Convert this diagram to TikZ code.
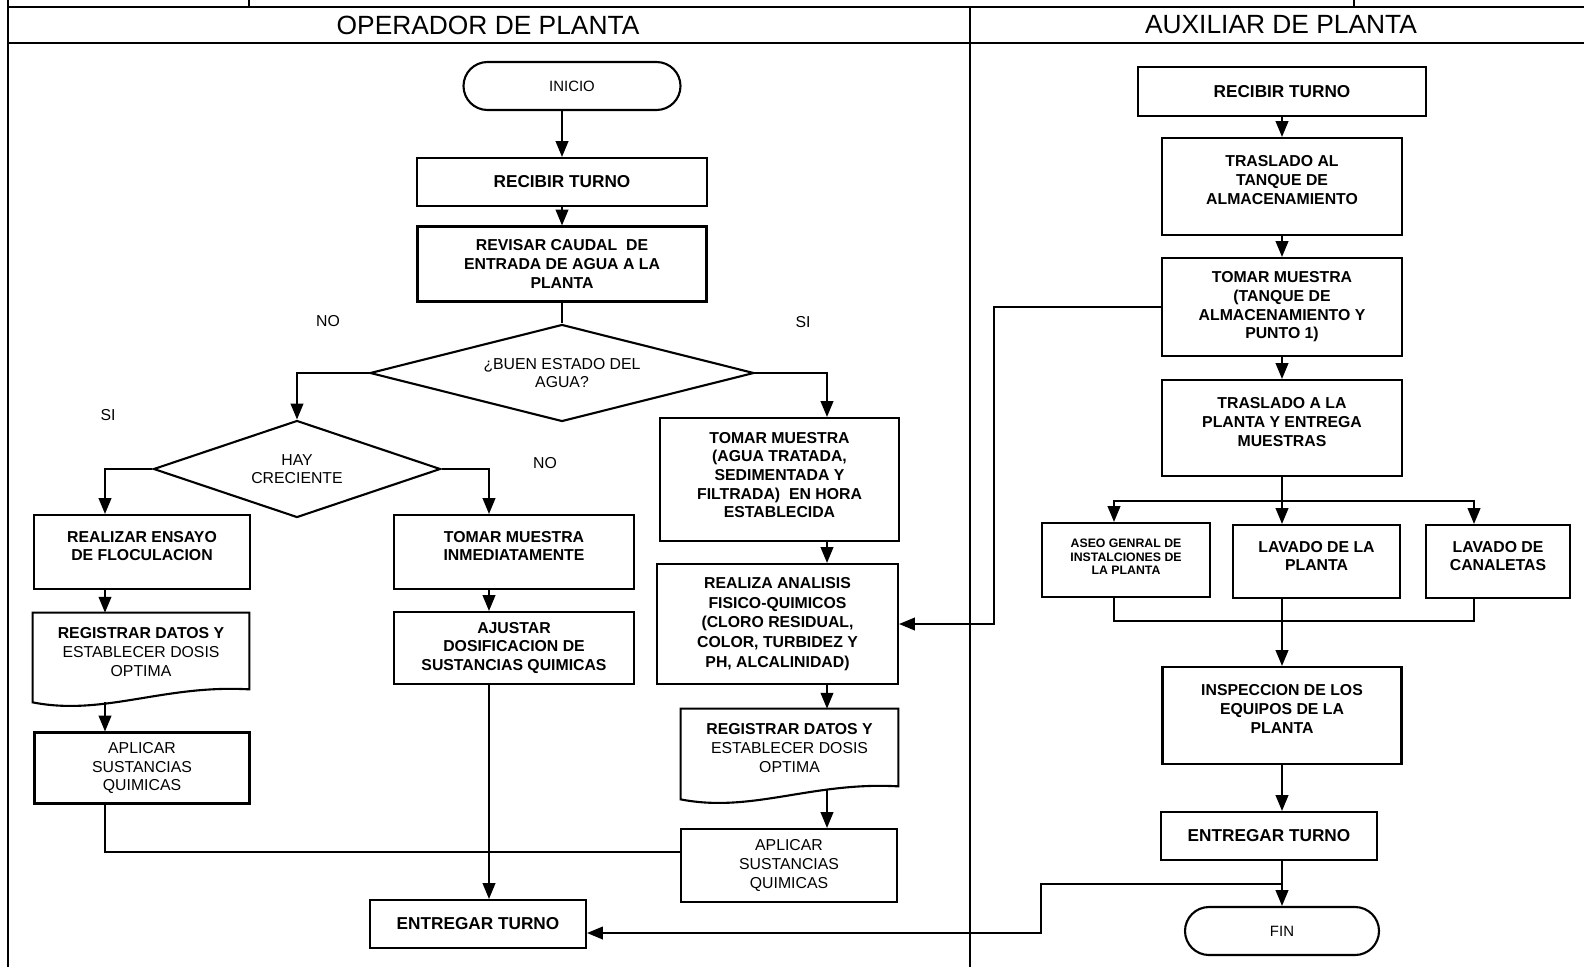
\documentclass[tikz,border=0pt]{standalone}
\usepackage{fontspec}
\setmainfont{Liberation Sans}
\usetikzlibrary{shapes.geometric,shapes.misc,arrows.meta,calc}
% baja el texto del nodo (sube el texto dentro de la caja)
\newcommand\alza[1]{\rule[-#1]{0pt}{#1}}
\tikzset{
  marco/.style={line width=1.2pt},
  borde/.style={line width=1.2pt},
  caja/.style={
    draw,
    line width=1.2pt,
    inner sep=0pt,
    align=center,
    font=\bfseries\fontsize{9}{10.6}\selectfont
  },
  normal/.style={font=\fontsize{9}{10.6}\selectfont},
  grande/.style={font=\bfseries\fontsize{9.8}{11}\selectfont},
  tam/.style 2 args={minimum width=#1*0.02cm, minimum height=#2*0.02cm},
  terminal/.style={caja, rounded rectangle, font=\fontsize{8.5}{10}\selectfont},
  decision/.style={caja, diamond, aspect=3, normal},
  hojadoc/.style={inner sep=0pt, align=center, normal},
  rotulo/.style={normal},
  titulo/.style={font=\fontsize{15}{18}\selectfont},
  flecha/.style={line width=1pt, -{Triangle[length=9pt,width=7.2pt]}},
  linea/.style={line width=1pt},
  lineafina/.style={line width=0.75pt}
}
% contorno de documento (borde inferior ondulado)
\newcommand\hoja[1]{%
  \draw[borde] (#1.south west) -- (#1.north west) -- (#1.north east)
    -- ($(#1.south east)+(0,-13)$)
    .. controls ($(#1.south east)+(-86,-18)$) and ($(#1.south west)+(71,14)$) .. (#1.south west)
    -- cycle;}

\begin{document}
\begin{tikzpicture}[x=0.02cm, y=-0.02cm]
  \useasboundingbox (0,0) rectangle (1584,967);
  % marco
  \draw[marco] (8,0) -- (8,967);
  \draw[marco] (8,7) -- (1584,7);
  \draw[marco] (8,43) -- (1584,43);
  \draw[marco] (970,7) -- (970,967);
  \draw[marco] (249,0) -- (249,7);
  \draw[marco] (1354,0) -- (1354,7);
  \node[titulo] (tituloA) at (488,25) {OPERADOR DE PLANTA};
  \node[titulo] (tituloB) at (1281,25) {AUXILIAR DE PLANTA};
  % columnas de las flechas
  \coordinate (colA) at (105,0);
  \coordinate (colB) at (489,0);
  \coordinate (colC) at (827,0);
  \coordinate (colE) at (994,0);
  \coordinate (colF) at (1114,0);
  \coordinate (colG) at (1474,0);
  \coordinate (juntaA) at (105,852);
  \coordinate (reparte) at (1282,501);
  \coordinate (juntaB) at (1282,621);
  \coordinate (desvio) at (1282,884);
  \coordinate (llegada) at (1041,933);
  %
  % operador de planta
  \node[terminal, tam={217}{48}] (inicio) at (572,86) {INICIO};
  \node[caja, grande, tam={290}{48}] (recibirA) at (562,182) {RECIBIR TURNO};
  \node[caja, tam={289}{75}] (revisar) at (562,264) {REVISAR CAUDAL\ \ DE\\ENTRADA DE AGUA A LA\\PLANTA};
  \node[decision, tam={384}{97}] (buen) at (562,373) {¿BUEN ESTADO DEL\\AGUA?};
  \node[decision, tam={287}{97}] (hay) at (297,469) {HAY\\CRECIENTE};
  \node[rotulo] (noA) at (328,321) {NO};
  \node[rotulo] (siA) at (803,322) {SI};
  \node[rotulo] (siB) at (108,415) {SI};
  \node[rotulo] (noB) at (545,463) {NO};
  \node[caja, tam={216}{74}] (ensayo) at (142,552) {REALIZAR ENSAYO\\DE FLOCULACION\alza{6.8pt}};
  \node[caja, tam={240}{74}] (inmed) at (514,552) {TOMAR MUESTRA\\INMEDIATAMENTE\alza{6.8pt}};
  \node[hojadoc, tam={216}{89}] (regA) at (141,657.5) {\textbf{REGISTRAR DATOS Y}\\ESTABLECER DOSIS\\OPTIMA\alza{6.3pt}};
  \hoja{regA}
  \node[caja, normal, tam={215}{71}] (aplicarA) at (142,768) {APLICAR\\SUSTANCIAS\\QUIMICAS};
  \node[caja, tam={240}{72}] (ajustar) at (514,648) {AJUSTAR\\DOSIFICACION DE\\SUSTANCIAS QUIMICAS};
  \node[caja, grande, tam={216}{48}] (entregarA) at (478,924) {ENTREGAR TURNO};
  \node[caja, tam={239}{123}] (tomarB) at (779.5,479.5) {TOMAR MUESTRA\\(AGUA TRATADA,\\SEDIMENTADA Y\\FILTRADA)\ \ EN HORA\\ESTABLECIDA\alza{5.1pt}};
  \node[caja, tam={241}{120}, font=\bfseries\fontsize{9}{11.3}\selectfont] (analisis) at (777.5,624) {REALIZA ANALISIS\\FISICO-QUIMICOS\\(CLORO RESIDUAL,\\COLOR, TURBIDEZ Y\\PH, ALCALINIDAD)};
  \node[hojadoc, tam={217}{90}] (regB) at (789.5,754) {\textbf{REGISTRAR DATOS Y}\\ESTABLECER DOSIS\\OPTIMA\alza{6.8pt}};
  \hoja{regB}
  \node[caja, normal, tam={216}{73}] (aplicarB) at (789,865.5) {APLICAR\\SUSTANCIAS\\QUIMICAS};
  %
  % auxiliar de planta
  \node[caja, grande, tam={288}{49}] (recibirB) at (1282,91.5) {RECIBIR TURNO};
  \node[caja, tam={240}{97}] (trasladoA) at (1282,186.5) {TRASLADO AL\\TANQUE DE\\ALMACENAMIENTO\alza{7.4pt}};
  \node[caja, tam={240}{98}] (tomarC) at (1282,307) {TOMAR MUESTRA\\(TANQUE DE\\ALMACENAMIENTO Y\\PUNTO 1)};
  \node[caja, tam={240}{96}] (trasladoB) at (1282,428) {TRASLADO A LA\\PLANTA Y ENTREGA\\MUESTRAS\alza{6.8pt}};
  \node[caja, tam={168}{74}, font=\bfseries\fontsize{7}{7.6}\selectfont] (aseo) at (1126,560) {ASEO GENRAL DE\\INSTALCIONES DE\\LA PLANTA\alza{3.4pt}};
  \node[caja, tam={167}{73}] (lavado) at (1316.5,561.5) {LAVADO DE LA\\PLANTA\alza{6.3pt}};
  \node[caja, tam={144}{73}] (canaletas) at (1498,561.5) {LAVADO DE\\CANALETAS\alza{6.3pt}};
  \node[caja, tam={239}{97}] (inspeccion) at (1282,715.5) {INSPECCION DE LOS\\EQUIPOS DE LA\\PLANTA\alza{7.4pt}};
  \node[caja, grande, tam={216}{48}] (entregarB) at (1269,836) {ENTREGAR TURNO};
  \node[terminal, tam={194}{48}] (fin) at (1282,931) {FIN};
  %
  % conectores operador
  \draw[flecha] (inicio.south -| recibirA.north) -- (recibirA.north);
  \draw[flecha] (recibirA.south) -- (revisar.north);
  \draw[linea] (revisar.south) -- (buen.north);
  \draw[flecha] (buen.west) -| (hay.north);
  \draw[flecha] (buen.east) -| (colC |- tomarB.north);
  \draw[flecha] (hay.west) -| (colA |- ensayo.north);
  \draw[flecha] (hay.east) -| (colB |- inmed.north);
  \draw[flecha] (colA |- ensayo.south) -- (colA |- regA.north);
  \draw[flecha] (colA |- regA.south) -- (colA |- aplicarA.north);
  \draw[flecha] (colB |- inmed.south) -- (colB |- ajustar.north);
  \draw[flecha] (colB |- ajustar.south) -- (colB |- entregarA.north);
  \draw[linea] (colA |- aplicarA.south) -- (juntaA) -- (juntaA -| aplicarB.west);
  \draw[flecha] (colC |- tomarB.south) -- (colC |- analisis.north);
  \draw[flecha] (colC |- analisis.south) -- (colC |- regB.north);
  \draw[flecha] ($(colC |- regB.south)+(0,-10)$) -- (colC |- aplicarB.north);
  %
  % conectores auxiliar
  \draw[flecha] (recibirB.south) -- (trasladoA.north);
  \draw[flecha] (trasladoA.south) -- (tomarC.north);
  \draw[flecha] (tomarC.south) -- (trasladoB.north);
  \draw[flecha] (tomarC.west) -| (colE |- analisis.east) -- (analisis.east);
  \draw[linea] (trasladoB.south) -- (reparte);
  \draw[flecha] (reparte) -| (colF |- aseo.north);
  \draw[flecha] (reparte) -| (colG |- canaletas.north);
  \draw[flecha] (reparte) -- (reparte |- lavado.north);
  \draw[lineafina] (colF |- aseo.south) -- (colF |- juntaB) -- (colG |- juntaB) -- (colG |- canaletas.south);
  \draw[flecha] (juntaB |- lavado.south) -- (inspeccion.north);
  \draw[flecha] (inspeccion.south) -- (inspeccion.south |- entregarB.north);
  \draw[flecha] (fin.north |- entregarB.south) -- (fin.north);
  \draw[flecha] (desvio) -| (llegada) -- (llegada -| entregarA.east);
\end{tikzpicture}
\end{document}
